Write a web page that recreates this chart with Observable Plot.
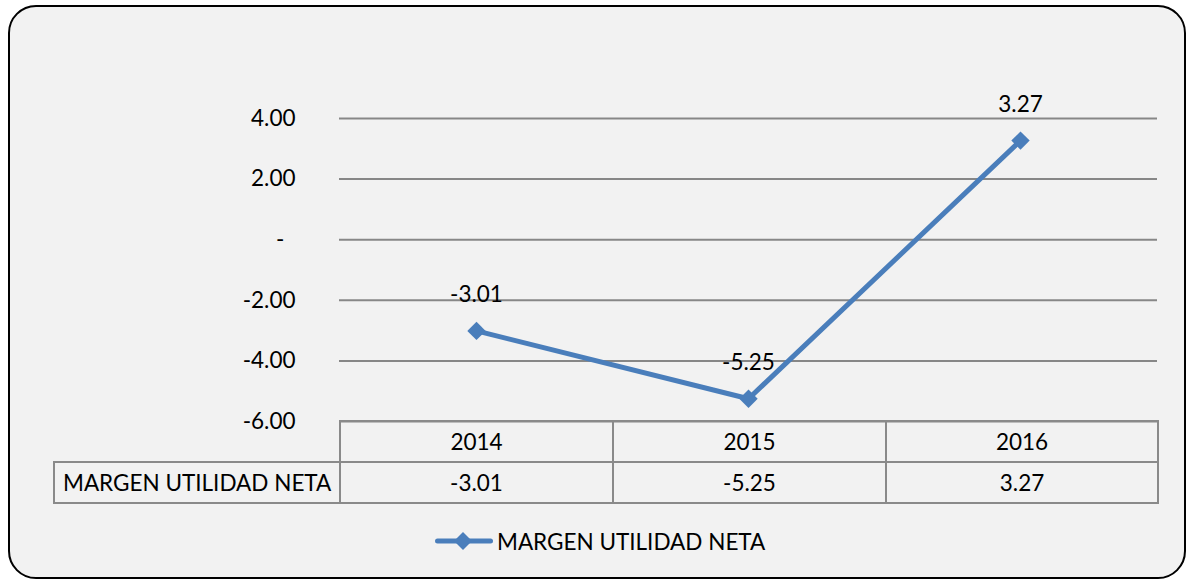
<!DOCTYPE html>
<html>
<head>
<meta charset="utf-8">
<script src="https://cdn.jsdelivr.net/npm/d3@7"></script>
<script src="https://cdn.jsdelivr.net/npm/@observablehq/plot@0.6"></script>
<style>
  html, body { margin: 0; padding: 0; background: #fff; overflow: hidden; }
  body { width: 1188px; height: 579px; position: relative; font-family: Lato, "Noto Sans", sans-serif; color: #000; }
  #frame { position: absolute; left: 8px; top: 5px; width: 1178px; height: 574px; box-sizing: border-box;
           border: 2px solid #000; border-radius: 28px; background: #f2f2f2; }
  #chart { position: absolute; left: 0; top: 0; }
  #table { position: absolute; left: 53px; top: 420px; border-collapse: collapse; table-layout: fixed; font-size: 22.5px; }
  #table td { border: 2px solid #8a8a8a; height: 39px; padding: 0; text-align: center; vertical-align: middle; }
  #table td.blank { border: none; }
  #table td.label { text-align: left; padding-left: 8px; }
  #legend { position: absolute; left: 435px; top: 527px; height: 28px; display: flex; align-items: center; font-size: 22.5px; }
  #legend svg { margin-right: 4px; }
</style>
</head>
<body>
<div id="frame"></div>
<div id="chart"></div>
<table id="table"></table>
<div id="legend"></div>
<script>
const years = ["2014", "2015", "2016"];
const margen = [-3.01, -5.25, 3.27];
const yTicks = [-6, -4, -2, 0, 2, 4];
const seriesName = "MARGEN UTILIDAD NETA";
const blue = "#4a7ebb";

const data = years.map((y, i) => ({year: y, value: margen[i]}));
const fmt = v => v === 0 ? "-\u2002" : v.toFixed(2);

const plot = Plot.plot({
  width: 1188,
  height: 440,
  marginLeft: 339,
  marginRight: 31,
  marginTop: 118,
  marginBottom: 19,
  style: {background: "none", fontFamily: "Lato, 'Noto Sans', sans-serif", fontSize: "22.5px", color: "#000", overflow: "visible"},
  x: {type: "point", domain: years, padding: 0.5, axis: null},
  y: {domain: [-6, 4], ticks: yTicks, tickFormat: fmt, tickSize: 0, tickPadding: 44, label: null},
  marks: [
    Plot.ruleY(yTicks, {stroke: "#878787", strokeWidth: 2, strokeOpacity: 1}),
    Plot.line(data, {x: "year", y: "value", stroke: blue, strokeWidth: 5}),
    Plot.dot(data, {x: "year", y: "value", symbol: "diamond2", r: 8.3, fill: blue, stroke: "none"}),
    Plot.text(data, {x: "year", y: "value", text: d => d.value.toFixed(2), dy: -36, fontSize: 22.5, fill: "#000"})
  ]
});
document.getElementById("chart").appendChild(plot);

// data table
const table = document.getElementById("table");
const colW = [286, 273, 273, 272];
const cg = document.createElement("colgroup");
colW.forEach(w => { const c = document.createElement("col"); c.style.width = w + "px"; cg.appendChild(c); });
table.appendChild(cg);
const r1 = table.insertRow();
const blank = r1.insertCell(); blank.className = "blank";
years.forEach(y => { r1.insertCell().textContent = y; });
const r2 = table.insertRow();
const lab = r2.insertCell(); lab.className = "label"; lab.textContent = seriesName;
margen.forEach(v => { r2.insertCell().textContent = v.toFixed(2); });

// legend
const legend = document.getElementById("legend");
legend.innerHTML = `<svg width="58" height="28"><line x1="2.5" y1="14" x2="55.5" y2="14" stroke="${blue}" stroke-width="5" stroke-linecap="round"/><polygon points="28,5 37,14 28,23 19,14" fill="${blue}"/></svg><span>${seriesName}</span>`;
</script>
</body>
</html>
